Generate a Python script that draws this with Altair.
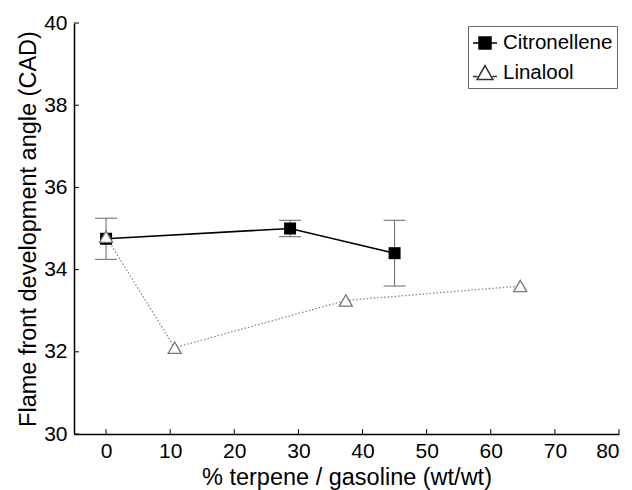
import altair as alt
import pandas as pd

series = ["Citronellene", "Linalool"]
cit_x = [0, 28.7, 45]
cit_y = [34.75, 35.0, 34.4]
cit_lo = [34.25, 34.8, 33.6]
cit_hi = [35.25, 35.2, 35.2]
lin_x = [0, 10.7, 37.4, 64.6]
lin_y = [34.8, 32.1, 33.25, 33.6]
x_ticks = list(range(0, 81, 10))
y_ticks = [30, 32, 34, 36, 38, 40]

cit = pd.DataFrame({"x": cit_x, "y": cit_y, "lo": cit_lo, "hi": cit_hi, "s": series[0]})
lin = pd.DataFrame({"x": lin_x, "y": lin_y, "s": series[1]})
pts = pd.concat([cit, lin], ignore_index=True)

xt = pd.DataFrame({"x": x_ticks, "y": 30.0, "y2": 30.12})
yt = pd.DataFrame({"y": y_ticks, "x": -5.0, "x2": -4.22})

FONT = "Liberation Sans"
xs = alt.Scale(domain=[-5, 80], nice=False, zero=False)
ys = alt.Scale(domain=[30, 40], nice=False, zero=False)

X = alt.X("x:Q", scale=xs, axis=alt.Axis(values=x_ticks, title="% terpene / gasoline (wt/wt)",
                                         labelPadding=6, titlePadding=4))
Y = alt.Y("y:Q", scale=ys, axis=alt.Axis(values=y_ticks, title="Flame front development angle (CAD)",
                                         labelPadding=7, titlePadding=3))

base_c = alt.Chart(cit)
base_l = alt.Chart(lin)

err = base_c.mark_rule(color="#666", strokeWidth=1).encode(
    x=alt.X("x:Q", scale=xs), y=alt.Y("lo:Q", scale=ys), y2="hi:Q")
cap_lo = base_c.mark_tick(orient="horizontal", size=22, thickness=1, color="#666", opacity=1).encode(
    x=alt.X("x:Q", scale=xs), y=alt.Y("lo:Q", scale=ys))
cap_hi = base_c.mark_tick(orient="horizontal", size=22, thickness=1, color="#666", opacity=1).encode(
    x=alt.X("x:Q", scale=xs), y=alt.Y("hi:Q", scale=ys))

line_c = base_c.mark_line(color="black", strokeWidth=1.6).encode(x=X, y=Y)
line_l = base_l.mark_line(color="#888", strokeWidth=1.3, strokeDash=[1.5, 2]).encode(x=X, y=Y)

pt_c = base_c.mark_point(shape="square", filled=True, color="black", size=144, opacity=1).encode(x=X, y=Y)
pt_l = base_l.mark_point(shape="triangle-up", fill="white", stroke="#777", strokeWidth=1.3,
                         size=170, opacity=1).encode(x=X, y=Y)

xtick = alt.Chart(xt).mark_rule(color="black", strokeWidth=1).encode(
    x=alt.X("x:Q", scale=xs), y=alt.Y("y:Q", scale=ys), y2="y2:Q")
ytick = alt.Chart(yt).mark_rule(color="black", strokeWidth=1).encode(
    y=alt.Y("y:Q", scale=ys), x=alt.X("x:Q", scale=xs), x2="x2:Q")

sq_path = "M-1,0H-0.5M0.5,0H1M-0.5,-0.5H0.5V0.5H-0.5Z"
tri_path = "M-1,0.3H-0.62M0.62,0.3H1M0,-0.62L0.66,0.55H-0.66Z"

leg = alt.Chart(pts).transform_filter("datum.x < -100").mark_point(
    opacity=1, size=576, strokeWidth=1.5, filled=True).encode(
    x=alt.X("x:Q", scale=xs), y=alt.Y("y:Q", scale=ys),
    shape=alt.Shape("s:N", scale=alt.Scale(domain=series, range=[sq_path, tri_path]),
                    legend=alt.Legend(title=None, orient="none", legendX=394, legendY=3)),
    fill=alt.Fill("s:N", scale=alt.Scale(domain=series, range=["black", "white"]),
                  legend=alt.Legend(title=None, orient="none", legendX=394, legendY=3)),
    stroke=alt.Stroke("s:N", scale=alt.Scale(domain=series, range=["black", "#333"]),
                      legend=alt.Legend(title=None, orient="none", legendX=394, legendY=3)),
)

chart = alt.layer(err, cap_lo, cap_hi, line_c, line_l, pt_c, pt_l, xtick, ytick, leg).properties(
    width=545, height=411,
    padding={"left": 74, "top": 23, "right": 13, "bottom": 56},
    autosize=alt.AutoSizeParams(type="none"),
    background="white",
).configure_view(stroke=None).configure_axis(
    grid=False, ticks=False, domainColor="black", domainWidth=1.5,
    labelFont=FONT, labelFontSize=21, labelColor="black",
    titleFont=FONT, titleFontSize=23.5, titleFontWeight="normal", titleColor="black",
).configure_legend(
    strokeColor="#666", padding=4, labelFont=FONT, labelFontSize=20.5, labelColor="black",
    symbolSize=576, symbolStrokeWidth=1.5, rowPadding=6, labelOffset=5, fillColor="white",
)

chart.save("out.html", embed_options={"renderer": "svg", "actions": False})
